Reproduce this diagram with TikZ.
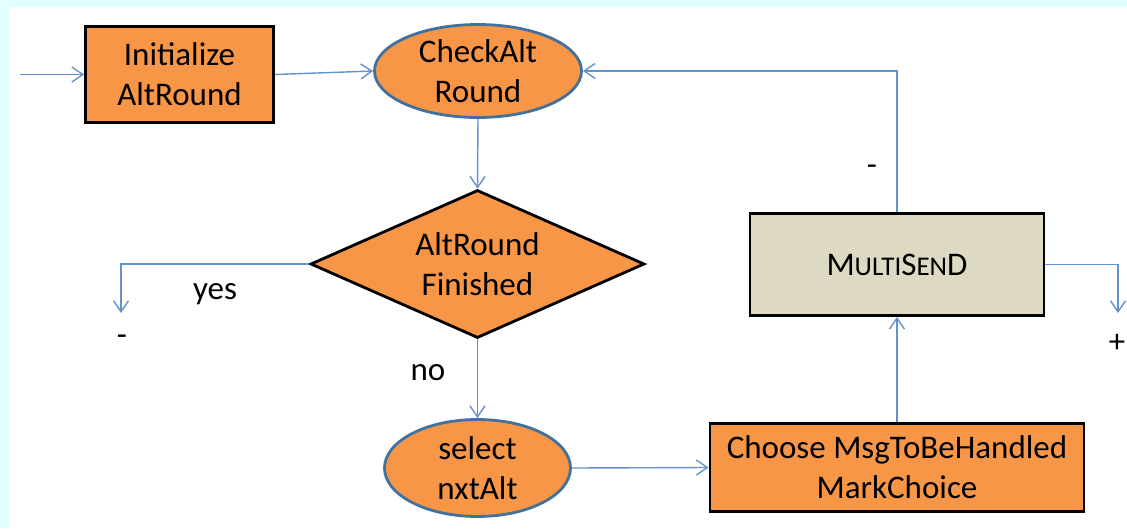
\documentclass[tikz,border=0pt]{standalone}
\usepackage{fontspec}
\setmainfont{Carlito}
\usetikzlibrary{shapes.geometric,arrows.meta}

\definecolor{frameCyan}{HTML}{E0FFFF}
\definecolor{stepOrange}{HTML}{F79646}
\definecolor{sendBeige}{HTML}{DDD9C3}
\definecolor{ovalEdge}{HTML}{41719C}
\definecolor{linkBlue}{HTML}{6492CC}

\newcommand{\chartfont}{\fontsize{33}{40}\selectfont}
\newcommand{\smallcapsize}{\fontsize{27}{40}\selectfont}

\tikzset{
  procbox/.style={rectangle, draw=black, line width=2.8pt, fill=stepOrange,
    align=center, inner sep=0pt, font=\chartfont},
  sendbox/.style={procbox, fill=sendBeige},
  oval/.style={ellipse, draw=ovalEdge, line width=2.8pt, fill=stepOrange,
    align=center, inner sep=0pt, font=\chartfont},
  decision/.style={diamond, aspect=2.25, draw=black, line width=2.8pt,
    fill=stepOrange, align=center, inner sep=0pt, font=\chartfont},
  link/.style={draw=linkBlue, line width=1.4pt,
    -{Straight Barb[length=11pt,width=15pt,line width=1.4pt]}},
  lbl/.style={inner sep=0pt, font=\chartfont}
}

\begin{document}
\begin{tikzpicture}[x=1pt,y=-1pt]
  % page frame: cyan strips on top and left, white drawing area
  \fill[frameCyan] (0,0) rectangle (1127,528);
  \fill[white] (9,7) rectangle (1127,528);
  \useasboundingbox (0,0) rectangle (1127,528);

  % process steps
  \node[procbox, minimum width=188pt, minimum height=96pt] (init) at (179.5,74.5)
    {Initialize\\AltRound};
  \node[oval, minimum width=207pt, minimum height=93pt] (check) at (478,71)
    {CheckAlt\\Round};
  \node[decision, minimum width=334pt, minimum height=148pt] (done) at (477.5,264)
    {AltRound\\Finished};
  \node[oval, minimum width=186pt, minimum height=97pt] (select) at (477.5,468)
    {select\\nxtAlt};
  \node[procbox, minimum width=374pt, minimum height=88pt] (choose) at (897,467.5)
    {Choose MsgToBeHandled\\MarkChoice};
  \node[sendbox, minimum width=294pt, minimum height=102pt] (send) at (897,264.5)
    {M{\smallcapsize ULTI}S{\smallcapsize EN}D};

  % loose ends of the flow
  \coordinate (start) at (20,74.5);
  \coordinate (yesEnd) at (121,313);
  \coordinate (plusEnd) at (1118,313);

  % connectors
  \draw[link] (start) -- (init.west);
  \draw[link] (init.east) -- (check.west);
  \draw[link] (check.south) -- (done.north);
  \draw[link] (done.west) -| (yesEnd);
  \draw[link] (done.south) -- (select.north);
  \draw[link] (select.east) -- (choose.west);
  \draw[link] (choose.north) -- (send.south);
  \draw[link] (send.north) |- (check.east);
  \draw[link] (send.east) -| (plusEnd);

  % branch labels
  \node[lbl] (yesLbl) at (215,294) {yes};
  \node[lbl] (yesOut) at (122,340) {-};
  \node[lbl] (noLbl) at (428,373) {no};
  \node[lbl] (backLbl) at (872,170) {-};
  \node[lbl] (plusOut) at (1117,343) {+};
\end{tikzpicture}
\end{document}
